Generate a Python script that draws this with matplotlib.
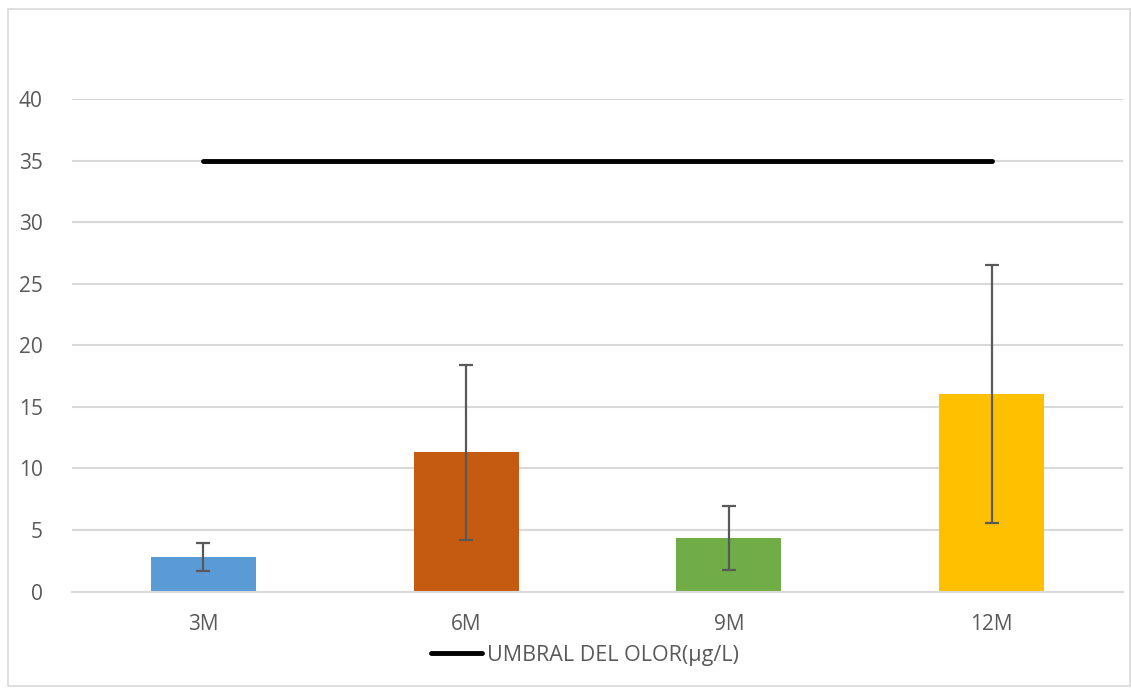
import matplotlib.pyplot as plt
from matplotlib.patches import Rectangle

# Datos
categorias = ["3M", "6M", "9M", "12M"]
valores = [2.79, 11.29, 4.35, 16.05]
errores = [1.15, 7.13, 2.57, 10.47]
colores = ["#5b9bd5", "#c55a11", "#70ad47", "#ffc000"]
umbral = [35, 35, 35, 35]

plt.rcParams['font.family'] = ['Open Sans', 'DejaVu Sans']

fig = plt.figure(figsize=(11.31, 6.88), dpi=100)
ax = fig.add_axes([72 / 1131, 1 - 591.5 / 688, 1051 / 1131, 492.5 / 688])

x = range(len(categorias))
ax.bar(x, valores, width=0.4, color=colores, zorder=2)
ax.errorbar(x, valores, yerr=errores, fmt='none', ecolor='#595959',
            elinewidth=1.6, capsize=5, capthick=1.6, zorder=3)
ax.plot(x, umbral, color='black', linewidth=3.5, solid_capstyle='round',
        label='UMBRAL DEL OLOR(µg/L)', zorder=4)

ax.set_xlim(-0.5, 3.5)
ax.set_ylim(0, 40)
ax.set_yticks(range(0, 41, 5))
ax.set_xticks(list(x))
ax.set_xticklabels(categorias)
ax.yaxis.grid(True, color='#d9d9d9', linewidth=1.5, zorder=0)
ax.set_axisbelow(True)

for s in ['top', 'right', 'left']:
    ax.spines[s].set_visible(False)
ax.spines['bottom'].set_color('#d9d9d9')
ax.spines['bottom'].set_linewidth(1.5)
ax.tick_params(axis='both', length=0, colors='#595959', labelsize=15)
ax.tick_params(axis='y', pad=21)
ax.tick_params(axis='x', pad=16)

fig.legend(loc='center', bbox_to_anchor=(0.517, 1 - 655 / 688), frameon=False,
           fontsize=15.5, labelcolor='#595959', handlelength=2.4, handletextpad=0.2)

# Borde del gráfico
fig.patches.append(Rectangle((8 / 1131, 0.003), 1 - 9 / 1131, 1 - 11 / 688,
                             transform=fig.transFigure, fill=False,
                             edgecolor='#d9d9d9', linewidth=1.2))

fig.savefig('out.png', dpi=100)
